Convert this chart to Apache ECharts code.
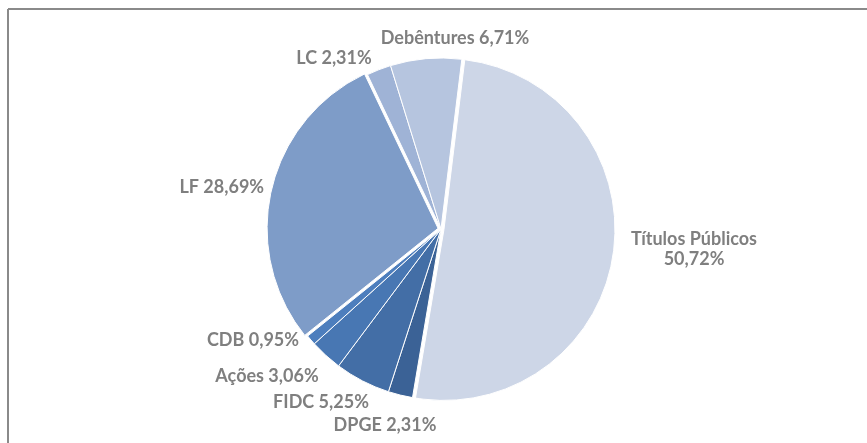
<!DOCTYPE html>
<html>
<head>
<meta charset="utf-8">
<script src="https://cdn.jsdelivr.net/npm/echarts@6/dist/echarts.min.js"></script>
<style>
html,body{margin:0;padding:0;background:#fff;}
#chart{width:867px;height:443px;}
</style>
</head>
<body>
<div id="chart"></div>
<script>
// Data (clockwise order starting from the top)
var categories = ['Títulos Públicos', 'DPGE', 'FIDC', 'Ações', 'CDB', 'LF', 'LC', 'Debêntures'];
var values = [50.72, 2.31, 5.25, 3.06, 0.95, 28.69, 2.31, 6.71];
var exploded = ['Títulos Públicos', 'LF'];

// Styling (kept separate from data)
var colors = ['#CDD6E7', '#3B6296', '#436EA6', '#4877B3', '#4D7EBD', '#7E9CC8', '#9FB3D6', '#B6C5DF'];
var labelCenters = [null, [385, 425], [321, 402], [267, 376], [253, 340], [223, 187], [334, 58], [455, 38]];

var chart = echarts.init(document.getElementById('chart'), null, {renderer: 'canvas'});

function fmt(v) { return v.toFixed(2).replace('.', ','); }

var pieData = categories.map(function (c, i) {
  return {
    name: c,
    value: values[i],
    selected: exploded.indexOf(c) >= 0,
    itemStyle: {color: colors[i]}
  };
});

chart.setOption({
  animation: false,
  backgroundColor: '#ffffff',
  graphic: [
    {type: 'line', shape: {x1: 8, y1: 9, x2: 867, y2: 9}, style: {stroke: '#8a8a8a', lineWidth: 2}, silent: true},
    {type: 'line', shape: {x1: 8, y1: 9, x2: 8, y2: 443}, style: {stroke: '#8a8a8a', lineWidth: 2}, silent: true}
  ],
  series: [{
    type: 'pie',
    center: [441, 229],
    radius: 171,
    startAngle: 83,
    clockwise: true,
    avoidLabelOverlap: false,
    selectedMode: 'multiple',
    selectedOffset: 3,
    itemStyle: {borderColor: '#ffffff', borderWidth: 1},
    select: {itemStyle: {borderColor: '#ffffff', borderWidth: 1}},
    emphasis: {disabled: true},
    label: {
      show: true,
      position: 'outside',
      fontFamily: 'Lato',
      fontWeight: 'bold',
      fontSize: 18,
      color: '#7f7f7f',
      lineHeight: 20,
      formatter: function (p) {
        var sep = p.name.length > 12 ? '\n' : ' ';
        return p.name + sep + fmt(p.value) + '%';
      }
    },
    labelLine: {show: false},
    labelLayout: function (p) {
      var c = labelCenters[p.dataIndex];
      if (!c) {
        return {dx: 31, dy: -7, align: 'center'};
      }
      return {x: c[0], y: c[1], align: 'center', verticalAlign: 'middle'};
    },
    data: pieData
  }]
});
</script>
</body>
</html>
